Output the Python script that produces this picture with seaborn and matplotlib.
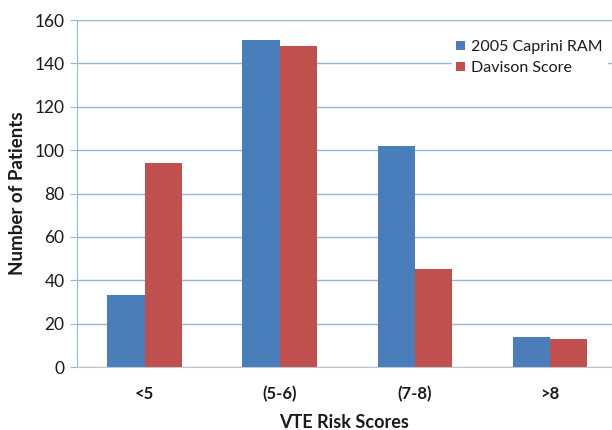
import numpy as np
import pandas as pd
import matplotlib.pyplot as plt
import seaborn as sns

categories = ['<5', '(5-6)', '(7-8)', '>8']
caprini = [33, 151, 102, 14]
davison = [94, 148, 45, 13]
series_names = ['2005 Caprini RAM', 'Davison Score']
yticks = [0, 20, 40, 60, 80, 100, 120, 140, 160]

df = pd.DataFrame({
    'score': categories * 2,
    'patients': caprini + davison,
    'method': [series_names[0]] * 4 + [series_names[1]] * 4,
})

sns.set_style('white')
plt.rcParams['font.family'] = ['Lato', 'DejaVu Sans']

fig = plt.figure(figsize=(6.12, 4.30), dpi=100)
ax = fig.add_axes([77 / 612, 63 / 430, 535 / 612, 347 / 430])

grid_col = '#94b8d0'
ax.set_axisbelow(True)
ax.yaxis.grid(True, color=grid_col, linewidth=1.0)

sns.barplot(data=df, x='score', y='patients', hue='method', order=categories,
            hue_order=series_names, palette=['#4a7ebb', '#c0504d'],
            width=0.55, saturation=1, linewidth=0, ax=ax)

ax.set_ylim(0, 160)
ax.set_yticks(yticks)
ax.set_xlim(-0.5, 3.46)

for side in ['top', 'right']:
    ax.spines[side].set_visible(False)
ax.spines['left'].set_color(grid_col)
ax.spines['bottom'].set_color('#c0c4cc')
ax.tick_params(axis='y', length=5, color=grid_col, labelsize=12.5, pad=4,
               direction='out', left=True, labelcolor='#1a1a1a')
ax.tick_params(axis='x', length=0, labelsize=12, pad=14, labelcolor='#1a1a1a')
for lab in ax.get_xticklabels():
    lab.set_fontweight('bold')

ax.set_xlabel('VTE Risk Scores', fontsize=13, fontweight='bold', labelpad=8,
              color='#1a1a1a')
ax.set_ylabel('Number of Patients', fontsize=13.5, fontweight='bold', labelpad=6,
              color='#1a1a1a')

leg = ax.legend(loc='upper right', bbox_to_anchor=(1.0, 0.97), frameon=True,
                fontsize=11.5, handlelength=0.55, handleheight=0.55,
                handletextpad=0.35, labelspacing=0.45, borderpad=0.3,
                borderaxespad=0.3)
leg.get_frame().set_facecolor('white')
leg.get_frame().set_edgecolor('white')
leg.get_frame().set_alpha(1)
for t in leg.get_texts():
    t.set_color('#1a1a1a')

fig.savefig('out.png', dpi=100)
